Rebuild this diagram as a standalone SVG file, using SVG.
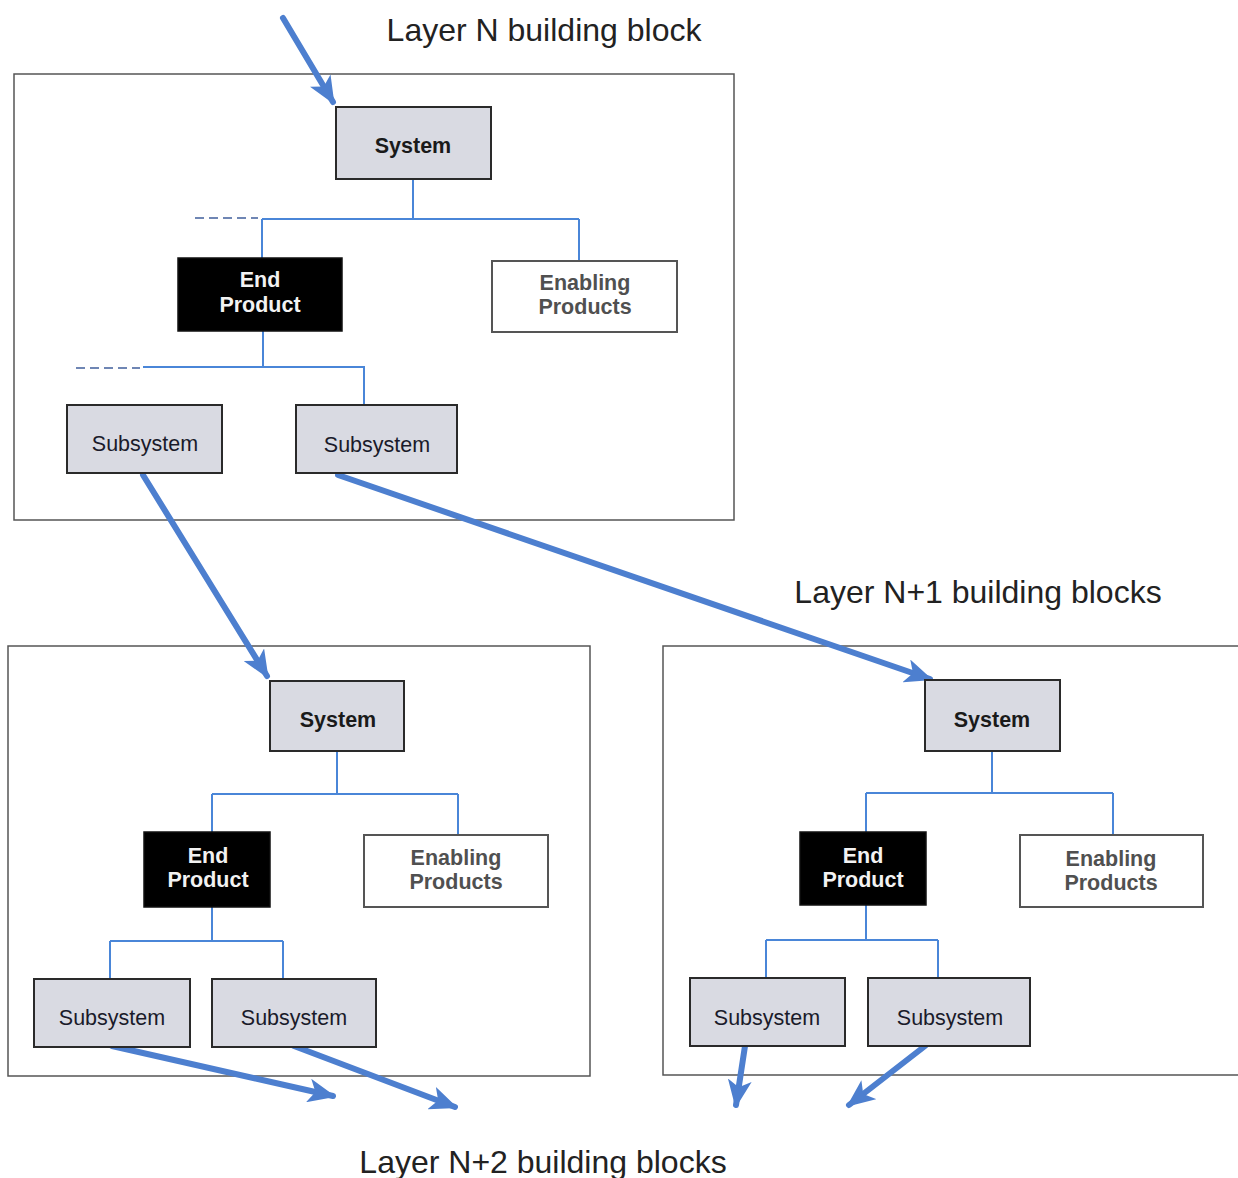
<svg xmlns="http://www.w3.org/2000/svg" width="1238" height="1178" viewBox="0 0 1238 1178">
  <style>
    .frame { fill: none; stroke: #555; stroke-width: 1.5; }
    .sys { fill: #d9dae2; stroke: #2a2a2a; stroke-width: 2; }
    .end { fill: #000; stroke: #111; stroke-width: 1.5; }
    .enab { fill: #fff; stroke: #555; stroke-width: 2; }
    .tree { fill: none; stroke: #4a86d8; stroke-width: 2; }
    .dash { fill: none; stroke: #6f86b4; stroke-width: 2; stroke-dasharray: 9 5; }
    .flow { fill: none; stroke: #4d7fcf; stroke-width: 6; stroke-linecap: round; }
    .title { font-family: "Liberation Sans", Arial, sans-serif; font-size: 32px; fill: #222; text-anchor: middle; }
    .lbl { font-family: "Liberation Sans", Arial, sans-serif; font-size: 21.5px; text-anchor: middle; }
    .lsys { font-weight: bold; fill: #1a1a1a; }
    .lsub { fill: #1a1a2a; }
    .lend { font-weight: bold; fill: #f2f2f2; }
    .lenab { font-weight: bold; fill: #505050; }
  </style>
  <defs>
    <marker id="head" markerUnits="userSpaceOnUse" markerWidth="30" markerHeight="24" refX="25" refY="12" orient="auto">
      <path d="M0,0 L28,12 L0,24 L7,12 Z" fill="#4d7fcf"/>
    </marker>
  </defs>

  <rect width="1238" height="1178" fill="#fff"/>

  <!-- layer frames -->
  <rect class="frame" x="14" y="74" width="720" height="446"/>
  <rect class="frame" x="8" y="646" width="582" height="430"/>
  <path class="frame" d="M1240,646 H663 V1075 H1240"/>

  <!-- headings -->
  <text class="title" x="544" y="41">Layer N building block</text>
  <text class="title" x="978" y="603">Layer N+1 building blocks</text>
  <text class="title" x="543" y="1173">Layer N+2 building blocks</text>

  <!-- tree connectors -->
  <g id="connectors">
    <path class="tree" d="M413,179 V219 M262,219 H579 M262,219 V258 M579,219 V261"/>
    <path class="dash" d="M195,218 H258"/>
    <path class="tree" d="M263,331 V367 M143,367 H364 V405"/>
    <path class="dash" d="M76,368 H140"/>

    <path class="tree" d="M337,751 V794 M212,794 H458 M212,794 V832 M458,794 V835"/>
    <path class="tree" d="M212,907 V941 M110,941 H283 M110,941 V979 M283,941 V979"/>

    <path class="tree" d="M992,751 V793 M866,793 H1113 M866,793 V832 M1113,793 V835"/>
    <path class="tree" d="M866,905 V940 M766,940 H938 M766,940 V978 M938,940 V978"/>

    <!-- flow arrows between layers -->
    <path class="flow" marker-end="url(#head)" d="M283,18 L333,102"/>
    <path class="flow" marker-end="url(#head)" d="M143,475 L267,676"/>
    <path class="flow" marker-end="url(#head)" d="M338,475 L930,679"/>
    <path class="flow" marker-end="url(#head)" d="M112,1046 L333,1096"/>
    <path class="flow" marker-end="url(#head)" d="M294,1046 L455,1107"/>
    <path class="flow" marker-end="url(#head)" d="M745,1046 L736,1105"/>
    <path class="flow" marker-end="url(#head)" d="M925,1046 L849,1105"/>
  </g>

  <!-- Layer N -->
  <g id="n-system">
    <rect class="sys" x="336" y="107" width="155" height="72"/>
    <text class="lbl lsys" x="413" y="153">System</text>
  </g>
  <g id="n-end-product">
    <rect class="end" x="178" y="258" width="164" height="73"/>
    <text class="lbl lend" x="260" y="287">End</text>
    <text class="lbl lend" x="260" y="312">Product</text>
  </g>
  <g id="n-enabling">
    <rect class="enab" x="492" y="261" width="185" height="71"/>
    <text class="lbl lenab" x="585" y="290">Enabling</text>
    <text class="lbl lenab" x="585" y="314">Products</text>
  </g>
  <g id="n-subsystem-1">
    <rect class="sys" x="67" y="405" width="155" height="68"/>
    <text class="lbl lsub" x="145" y="451">Subsystem</text>
  </g>
  <g id="n-subsystem-2">
    <rect class="sys" x="296" y="405" width="161" height="68"/>
    <text class="lbl lsub" x="377" y="452">Subsystem</text>
  </g>

  <!-- Layer N+1, left -->
  <g id="a-system">
    <rect class="sys" x="270" y="681" width="134" height="70"/>
    <text class="lbl lsys" x="338" y="727">System</text>
  </g>
  <g id="a-end-product">
    <rect class="end" x="144" y="832" width="126" height="75"/>
    <text class="lbl lend" x="208" y="863">End</text>
    <text class="lbl lend" x="208" y="887">Product</text>
  </g>
  <g id="a-enabling">
    <rect class="enab" x="364" y="835" width="184" height="72"/>
    <text class="lbl lenab" x="456" y="865">Enabling</text>
    <text class="lbl lenab" x="456" y="889">Products</text>
  </g>
  <g id="a-subsystem-1">
    <rect class="sys" x="34" y="979" width="156" height="68"/>
    <text class="lbl lsub" x="112" y="1025">Subsystem</text>
  </g>
  <g id="a-subsystem-2">
    <rect class="sys" x="212" y="979" width="164" height="68"/>
    <text class="lbl lsub" x="294" y="1025">Subsystem</text>
  </g>

  <!-- Layer N+1, right -->
  <g id="b-system">
    <rect class="sys" x="925" y="680" width="135" height="71"/>
    <text class="lbl lsys" x="992" y="727">System</text>
  </g>
  <g id="b-end-product">
    <rect class="end" x="800" y="832" width="126" height="73"/>
    <text class="lbl lend" x="863" y="863">End</text>
    <text class="lbl lend" x="863" y="887">Product</text>
  </g>
  <g id="b-enabling">
    <rect class="enab" x="1020" y="835" width="183" height="72"/>
    <text class="lbl lenab" x="1111" y="866">Enabling</text>
    <text class="lbl lenab" x="1111" y="890">Products</text>
  </g>
  <g id="b-subsystem-1">
    <rect class="sys" x="690" y="978" width="155" height="68"/>
    <text class="lbl lsub" x="767" y="1025">Subsystem</text>
  </g>
  <g id="b-subsystem-2">
    <rect class="sys" x="868" y="978" width="162" height="68"/>
    <text class="lbl lsub" x="950" y="1025">Subsystem</text>
  </g>
</svg>
